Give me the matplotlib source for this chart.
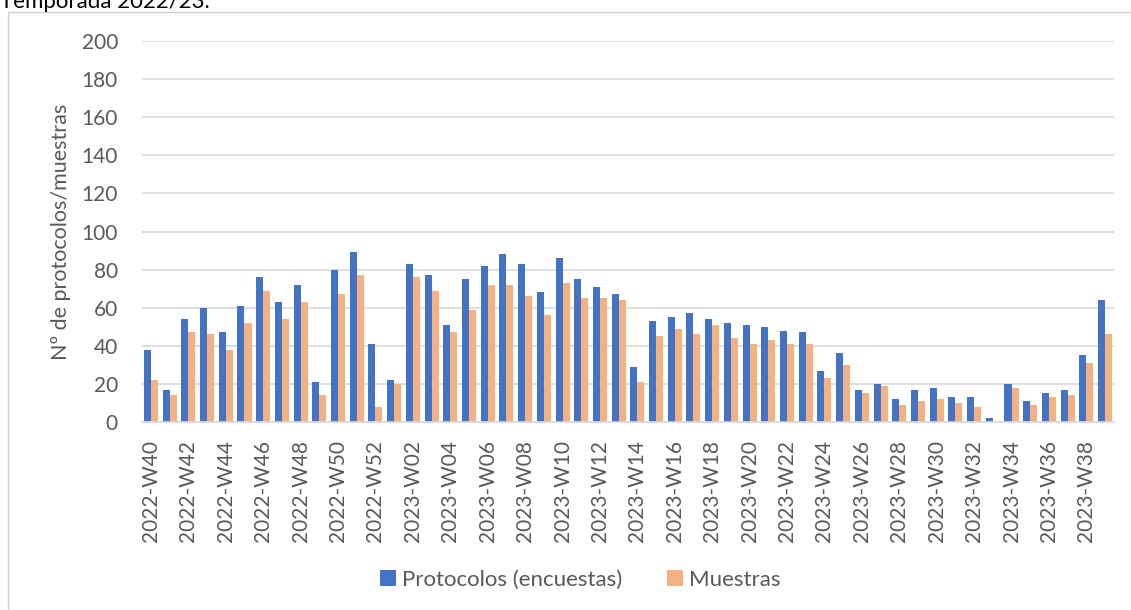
import numpy as np
from matplotlib import pyplot as plt
from matplotlib.patches import Rectangle

# Weekly counts, season 2022/23
weeks = [f"2022-W{w}" for w in range(40, 53)] + [f"2023-W{w:02d}" for w in range(1, 40)]
protocolos = [38, 17, 54, 60, 47, 61, 76, 63, 72, 21, 80, 89, 41,
              22, 83, 77, 51, 75, 82, 88, 83, 68, 86, 75, 71, 67, 29,
              53, 55, 57, 54, 52, 51, 50, 48, 47, 27, 36, 17, 20, 12,
              17, 18, 13, 13, 2, 20, 11, 15, 17, 35, 64]
muestras = [22, 14, 47, 46, 38, 52, 69, 54, 63, 14, 67, 77, 8,
            20, 76, 69, 47, 59, 72, 72, 66, 56, 73, 65, 65, 64, 21,
            45, 49, 46, 51, 44, 41, 43, 41, 41, 23, 30, 15, 19, 9,
            11, 12, 10, 8, 0, 18, 9, 13, 14, 31, 46]

BLUE = "#4472C4"
ORANGE = "#F4B183"
TEXT = "#595959"

plt.rcParams["font.family"] = ["Lato", "DejaVu Sans"]

fig = plt.figure(figsize=(11.31, 6.10), dpi=100)
ax = fig.add_axes([141.6 / 1131, 1 - 422 / 610, (1114.4 - 141.6) / 1131, (422 - 41) / 610])

# outer chart frame
fig.patches.append(Rectangle((8 / 1131, -0.01), 1.02, 1 - 12 / 610 + 0.01,
                             transform=fig.transFigure, fill=False,
                             edgecolor="#d0d0d0", linewidth=1))
fig.text(0, 1 - 8 / 610, "Temporada 2022/23.", fontsize=16,
         color="#000000", va="baseline", ha="left")

x = np.arange(len(weeks))
w = 0.375
ax.bar(x - w / 2, protocolos, width=w, color=BLUE, label="Protocolos (encuestas)")
ax.bar(x + w / 2, muestras, width=w, color=ORANGE, label="Muestras")

ax.set_xlim(-0.5, len(weeks) - 0.5)
ax.set_ylim(0, 200)
ax.set_yticks(np.arange(0, 201, 20))
ax.set_xticks(x[::2])
ax.set_xticklabels(weeks[::2], rotation=90)
ax.tick_params(axis="both", length=0, labelsize=15, colors=TEXT)
ax.tick_params(axis="y", pad=17)
ax.tick_params(axis="x", pad=13)
ax.grid(axis="y", color="#d9d9d9", linewidth=1.2)
ax.set_axisbelow(True)
for s in ["top", "right", "left"]:
    ax.spines[s].set_visible(False)
ax.spines["bottom"].set_color("#d9d9d9")
ax.spines["bottom"].set_linewidth(1.2)

ax.set_ylabel("Nº de protocolos/muestras", fontsize=15.5, color=TEXT, labelpad=8)

fig.legend(loc="center", bbox_to_anchor=(580 / 1131, 1 - 580 / 610), ncol=2, frameon=False,
           fontsize=16, handlelength=0.75, handleheight=0.75, handletextpad=0.25,
           columnspacing=2.0, labelcolor=TEXT)

fig.savefig("out.png", dpi=100)
